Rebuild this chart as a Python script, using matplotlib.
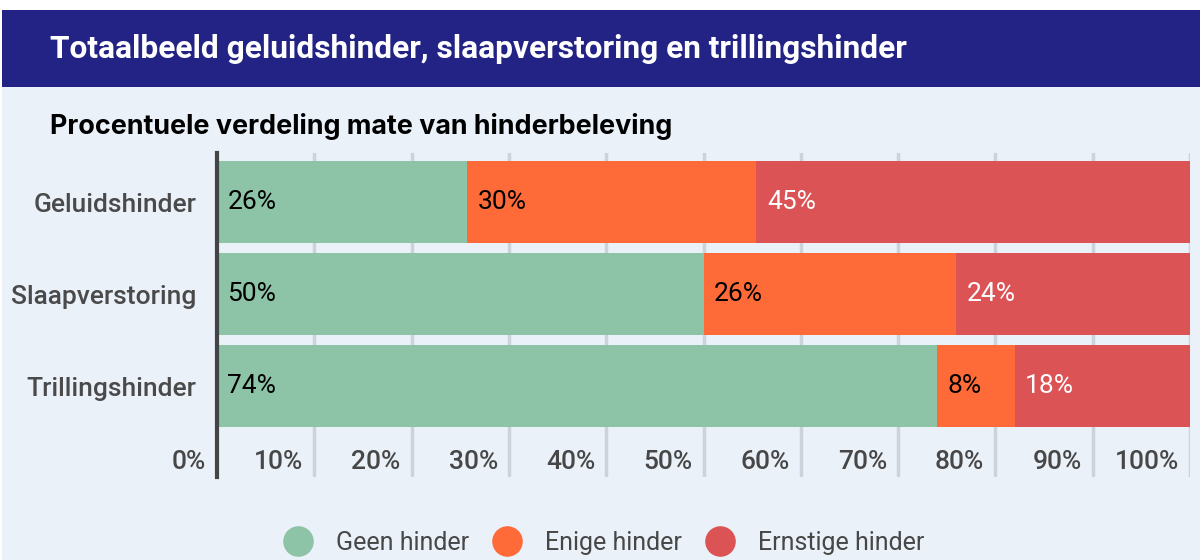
import numpy as np
import matplotlib.pyplot as plt
from matplotlib.patches import Rectangle
from matplotlib.lines import Line2D

# data
categories = ['Geluidshinder', 'Slaapverstoring', 'Trillingshinder']
series = ['Geen hinder', 'Enige hinder', 'Ernstige hinder']
geen = [26, 50, 74]
enige = [30, 26, 8]
ernstig = [45, 24, 18]
x_ticks = [0, 10, 20, 30, 40, 50, 60, 70, 80, 90, 100]
x_labels = ['0%', '10%', '20%', '30%', '40%', '50%', '60%', '70%', '80%', '90%', '100%']

title = 'Totaalbeeld geluidshinder, slaapverstoring en trillingshinder'
subtitle = 'Procentuele verdeling mate van hinderbeleving'

colors = ['#8dc3a7', '#ff6b38', '#dc5356']
label_colors = ['black', 'black', 'white']
bg = '#eaf1f9'
navy = '#232386'

W, H = 1200, 560
fig = plt.figure(figsize=(W / 100, H / 100), dpi=100)
fig.patch.set_facecolor('white')

# page background and header band (pixel coords from top-left)
def px(x, y):
    return x / W, 1 - y / H

fig.patches.append(Rectangle(px(2, 560), 1198 / W, 550 / H, transform=fig.transFigure,
                             facecolor=bg, edgecolor='none', zorder=-2))
fig.patches.append(Rectangle(px(2, 87), 1198 / W, 77 / H, transform=fig.transFigure,
                             facecolor=navy, edgecolor='none', zorder=-1))

fig.text(*px(50, 49), title, color='white', fontsize=22.8, fontweight='bold',
         family='Roboto', va='center', ha='left')
fig.text(*px(50, 134), subtitle, color='black', fontsize=19.4, fontweight='bold',
         family='Inter', va='baseline', ha='left')

# plot area
left, right, top, bottom = 217, 1190, 153, 477
ax = fig.add_axes([left / W, 1 - bottom / H, (right - left) / W, (bottom - top) / H])
ax.set_facecolor('none')
ax.set_zorder(2)

data = np.array([geen, enige, ernstig], dtype=float)
totals = data.sum(axis=0)
pct = data / totals * 100

y = np.arange(len(categories))
starts = np.zeros(len(categories))
for i in range(len(series)):
    ax.barh(y, pct[i], left=starts, height=0.89, color=colors[i], zorder=2)
    for j in range(len(categories)):
        ax.annotate(f'{int(data[i, j])}%', (starts[j], y[j]), xytext=(7.5, 0),
                    textcoords='offset points', ha='left', va='center',
                    fontsize=19, family='Roboto', color=label_colors[i], zorder=3)
    starts += pct[i]

ax.set_xlim(0, 100)
ax.set_ylim(2.989, -0.533)

# grid lines running through the label area
for t in x_ticks[1:]:
    ax.axvline(t, color='#ccd3db', lw=2.5, zorder=1)
for t, lab in zip(x_ticks, x_labels):
    ax.annotate(lab, (t, 2.83), xytext=(-8, 0), textcoords='offset points',
                ha='right', va='center', fontsize=19, fontweight='medium',
                family='Roboto', color='#474747')

ax.set_xticks([])
ax.set_yticks(y)
ax.set_yticklabels(categories, fontsize=19, fontweight='medium', family='Roboto',
                   color='#4a4a4a')
ax.tick_params(axis='y', length=0, pad=15)
for s in ['top', 'right', 'bottom']:
    ax.spines[s].set_visible(False)
ax.spines['left'].set_color('#444444')
ax.spines['left'].set_linewidth(3)
ax.spines['left'].set_zorder(4)

# legend
handles = [Line2D([], [], marker='o', ls='none', markersize=21, color=c) for c in colors]
leg = fig.legend(handles, series, loc='center', bbox_to_anchor=(0.503, 0.03), ncol=3,
                 frameon=False, handlelength=1.2, handletextpad=0.92, columnspacing=0.92,
                 prop={'family': 'Roboto', 'size': 18})
for txt in leg.get_texts():
    txt.set_color('#474747')

fig.savefig('out.png', dpi=100, facecolor=fig.get_facecolor())
